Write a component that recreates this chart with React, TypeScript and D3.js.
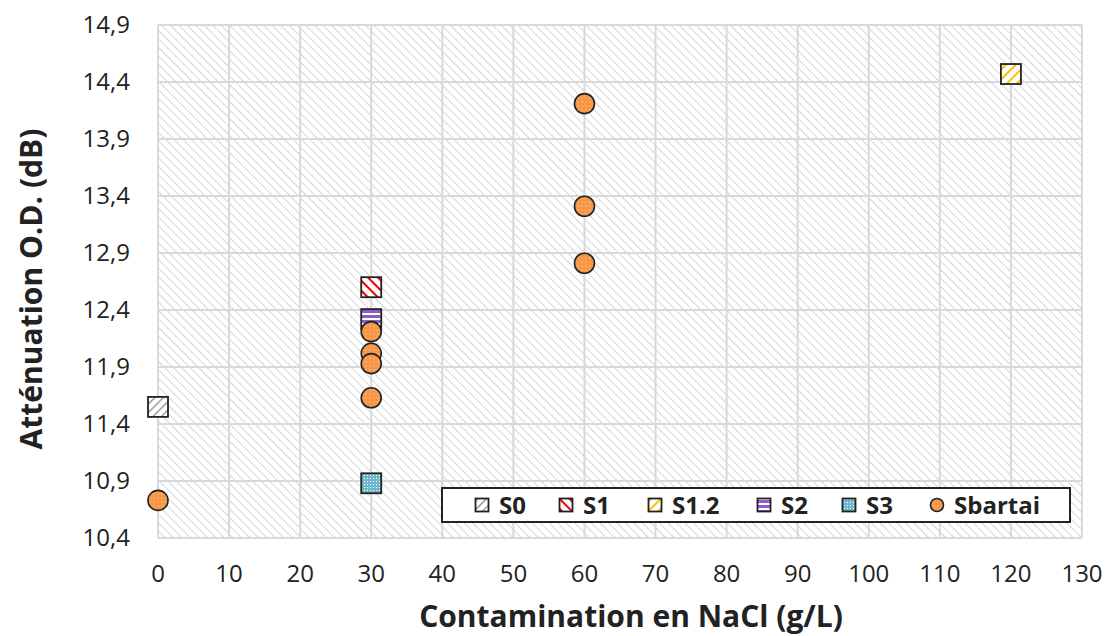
import * as d3 from "d3";
import * as React from "react";

const xTicks = [0, 10, 20, 30, 40, 50, 60, 70, 80, 90, 100, 110, 120, 130];
const yTicks = [10.4, 10.9, 11.4, 11.9, 12.4, 12.9, 13.4, 13.9, 14.4, 14.9];

const s0 = [[0, 11.55]];
const s1 = [[30, 12.6]];
const s12 = [[120, 14.47]];
const s2 = [[30, 12.32]];
const s3 = [[30, 10.88]];
const sbartai = [
  [0, 10.73], [30, 12.21], [30, 12.02], [30, 11.93], [30, 11.63],
  [60, 14.21], [60, 13.31], [60, 12.81],
];

const seriesNames = ["S0", "S1", "S1.2", "S2", "S3", "Sbartai"];

const W = 1111, H = 636;
const m = { left: 158, right: 1082, top: 25, bottom: 538 };

export default function App() {
  const x = d3.scaleLinear().domain([0, 130]).range([m.left, m.right]);
  const y = d3.scaleLinear().domain([10.4, 14.9]).range([m.bottom, m.top]);
  const font = "'Open Sans', 'Noto Sans', sans-serif";

  const series = [
    { name: "S0", data: s0, fill: "url(#pS0)", shape: "sq" },
    { name: "S1", data: s1, fill: "url(#pS1)", shape: "sq" },
    { name: "S1.2", data: s12, fill: "url(#pS12)", shape: "sq" },
    { name: "S2", data: s2, fill: "url(#pS2)", shape: "sq" },
    { name: "S3", data: s3, fill: "url(#pS3)", shape: "sq" },
    { name: "Sbartai", data: sbartai, fill: "url(#pSb)", shape: "ci" },
  ];

  const marker = (shape: string, fill: string, cx: number, cy: number, s: number, key: any) =>
    shape === "sq" ? (
      <rect key={key} x={cx - s / 2} y={cy - s / 2} width={s} height={s} fill={fill} stroke="#222" strokeWidth={1.8} />
    ) : (
      <circle key={key} cx={cx} cy={cy} r={s / 2} fill={fill} stroke="#222" strokeWidth={1.6} />
    );

  // legend
  const legX = 442, legY = 488, legW = 628, legH = 34;
  const legOffsets = [40, 124, 213, 322, 407, 495];

  return (
    <svg width={W} height={H} style={{ position: "absolute", left: 0, top: 0 }}>
      <defs>
        <pattern id="bg" width="6" height="6" patternUnits="userSpaceOnUse" patternTransform="rotate(-45)">
          <rect width="6" height="6" fill="#fff" />
          <line x1="0" y1="0" x2="0" y2="6" stroke="#d6d6d6" strokeWidth="2" />
        </pattern>
        <pattern id="pS0" width="6" height="6" patternUnits="userSpaceOnUse" patternTransform="rotate(45)">
          <rect width="6" height="6" fill="#fff" />
          <line x1="0" y1="0" x2="0" y2="6" stroke="#888" strokeWidth="2.5" />
        </pattern>
        <pattern id="pS1" width="7" height="7" patternUnits="userSpaceOnUse" patternTransform="rotate(-45)">
          <rect width="7" height="7" fill="#fff" />
          <line x1="0" y1="0" x2="0" y2="7" stroke="#f00000" strokeWidth="4" />
        </pattern>
        <pattern id="pS12" width="7" height="7" patternUnits="userSpaceOnUse" patternTransform="rotate(45)">
          <rect width="7" height="7" fill="#fff" />
          <line x1="0" y1="0" x2="0" y2="7" stroke="#ffc000" strokeWidth="4" />
        </pattern>
        <pattern id="pS2" width="5" height="5" patternUnits="userSpaceOnUse">
          <rect width="5" height="5" fill="#fff" />
          <line x1="0" y1="1.5" x2="5" y2="1.5" stroke="#8e5cc8" strokeWidth="3" />
        </pattern>
        <pattern id="pS3" width="3" height="3" patternUnits="userSpaceOnUse">
          <rect width="3" height="3" fill="#6fb7cc" />
          <rect x="1" y="1" width="1" height="1" fill="#fff" />
        </pattern>
        <pattern id="pSb" width="4" height="4" patternUnits="userSpaceOnUse">
          <rect width="4" height="4" fill="#f79646" />
          <rect x="1.5" y="1.5" width="1" height="1" fill="#fde0c0" />
        </pattern>
      </defs>

      <rect x={m.left} y={m.top} width={m.right - m.left} height={m.bottom - m.top} fill="url(#bg)" />

      {xTicks.map((t) => (
        <line key={"gx" + t} x1={x(t)} x2={x(t)} y1={m.top} y2={m.bottom} stroke="#d9d9d9" strokeWidth={2} />
      ))}
      {yTicks.map((t) => (
        <line key={"gy" + t} x1={m.left} x2={m.right} y1={y(t)} y2={y(t)} stroke="#d9d9d9" strokeWidth={2} />
      ))}

      {xTicks.map((t) => (
        <text key={"tx" + t} x={x(t)} y={m.bottom + 44} textAnchor="middle" fontSize={24} fill="#222" fontFamily={font}>
          {t}
        </text>
      ))}
      {yTicks.map((t) => (
        <text key={"ty" + t} x={m.left - 28} y={y(t) + 8} textAnchor="end" fontSize={24} fill="#222" fontFamily={font}>
          {d3.format(".1f")(t).replace(".", ",")}
        </text>
      ))}

      <text x={631} y={627} textAnchor="middle" fontSize={30} fontWeight="bold" fill="#222" fontFamily={font}>
        Contamination en NaCl (g/L)
      </text>
      <text transform={`translate(42,289) rotate(-90)`} textAnchor="middle" fontSize={30} fontWeight="bold" fill="#222" fontFamily={font}>
        Atténuation O.D. (dB)
      </text>

      {series.map((s) =>
        s.data.map((d, i) => marker(s.shape, s.fill, x(d[0]), y(d[1]), 20, s.name + i))
      )}

      <rect x={legX} y={legY} width={legW} height={legH} fill="#fff" stroke="#222" strokeWidth={2} />
      {series.map((s, i) => (
        <g key={"leg" + s.name}>
          {marker(s.shape, s.fill, legX + legOffsets[i], legY + legH / 2, 13, "lm" + i)}
          <text x={legX + legOffsets[i] + 17} y={legY + legH / 2 + 8.5} fontSize={24} fontWeight="bold" fill="#222" fontFamily={font}>
            {seriesNames[i]}
          </text>
        </g>
      ))}
    </svg>
  );
}
